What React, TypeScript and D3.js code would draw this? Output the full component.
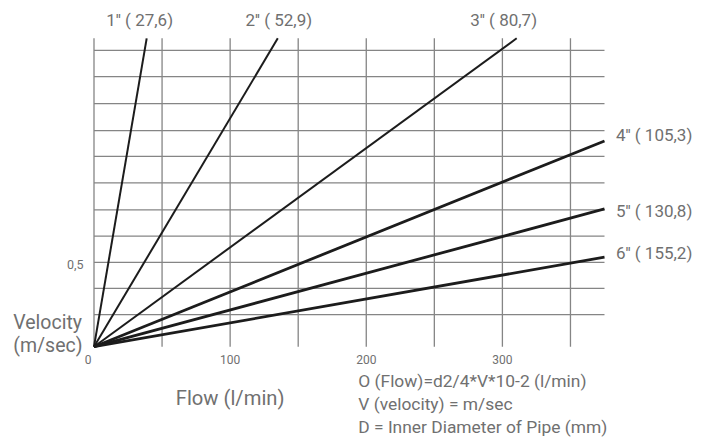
import { useEffect, useRef } from "react";
import * as d3 from "d3";

// Flow (l/min) on x, velocity (m/sec) on y
const FLOW_GRID = [0, 50, 100, 150, 200, 250, 300, 350];
const FLOW_TICKS = [0, 100, 200, 300];
const VELOCITY_GRID = [0.19, 0.345, 0.5, 0.655, 0.81, 0.97, 1.128, 1.28, 1.44, 1.6, 1.755];
const VELOCITY_TICKS = [0.5];

const PIPE_SIZES = ["1''", "2''", "3''", "4''", "5''", "6''"];
const PIPE_DIAMETERS = ["27,6", "52,9", "80,7", "105,3", "130,8", "155,2"];
const PIPE_END_FLOW = [38.7, 135, 310.5, 375, 375, 375];
const PIPE_END_VELOCITY = [1.827, 1.827, 1.827, 1.219, 0.816, 0.53];

const FORMULA = [
  "O (Flow)=d2/4*V*10-2 (l/min)",
  "V (velocity) = m/sec",
  "D = Inner Diameter of Pipe (mm)",
];

const W = 714, H = 439;
const GRID = "#858585";
const INK = "#1c1c1c";
const TEXT = "#707070";
const FONT = "Roboto, 'DejaVu Sans', sans-serif";

export default function App() {
  const ref = useRef<SVGSVGElement>(null);
  useEffect(() => {
    const el = ref.current;
    if (!el) return;
    const svg = d3.select(el);
    svg.selectAll("*").remove();

    const x = d3.scaleLinear().domain([0, 375]).range([94, 604.5]);
    const y = d3.scaleLinear().domain([0, 1.827]).range([346.7, 38.3]);

    // grid
    FLOW_GRID.forEach((f) => {
      svg.append("line").attr("x1", x(f)).attr("x2", x(f)).attr("y1", y.range()[1]).attr("y2", y(0))
        .attr("stroke", GRID).attr("stroke-width", 1.3);
    });
    VELOCITY_GRID.forEach((v) => {
      svg.append("line").attr("x1", x(0)).attr("x2", x.range()[1]).attr("y1", y(v)).attr("y2", y(v))
        .attr("stroke", GRID).attr("stroke-width", 1.3);
    });

    // tick labels
    FLOW_TICKS.forEach((f) => {
      svg.append("text").attr("x", x(f) - (f === 0 ? 6 : 0)).attr("y", 364).attr("text-anchor", "middle")
        .attr("fill", TEXT).attr("font-size", 12).attr("font-family", FONT).text(f);
    });
    VELOCITY_TICKS.forEach((v) => {
      svg.append("text").attr("x", 83.5).attr("y", y(v) + 7).attr("text-anchor", "end")
        .attr("fill", TEXT).attr("font-size", 12.5).attr("font-family", FONT).text(String(v).replace(".", ","));
    });

    // pipe lines
    const line = d3.line<[number, number]>().x((d) => x(d[0])).y((d) => y(d[1]));
    PIPE_SIZES.forEach((_s, i) => {
      const pts: [number, number][] = [[0, 0], [PIPE_END_FLOW[i], PIPE_END_VELOCITY[i]]];
      svg.append("path").attr("d", line(pts)).attr("fill", "none").attr("stroke", INK)
        .attr("stroke-width", i < 3 ? 2 : 2.8).attr("stroke-linecap", "butt");
    });

    // pipe labels: top ones sit above the end, side ones to the right
    const labelDx = [-7, 1, -13];
    const labelBase = [140.7, 217.3, 259.3];
    PIPE_SIZES.forEach((s, i) => {
      const t = svg.append("text").attr("fill", TEXT).attr("font-size", 17).attr("font-family", FONT)
        .text(`${s} ( ${PIPE_DIAMETERS[i]})`);
      if (i < 3) {
        t.attr("x", x(PIPE_END_FLOW[i]) + labelDx[i]).attr("y", 26).attr("text-anchor", "middle");
      } else {
        t.attr("x", 616).attr("y", labelBase[i - 3]).attr("text-anchor", "start");
      }
    });

    // axis titles
    svg.append("text").attr("x", 82).attr("y", 329).attr("text-anchor", "end").attr("fill", TEXT)
      .attr("font-size", 19.5).attr("font-family", FONT).text("Velocity");
    svg.append("text").attr("x", 82.5).attr("y", 352).attr("text-anchor", "end").attr("fill", TEXT)
      .attr("font-size", 19.5).attr("font-family", FONT).text("(m/sec)");
    svg.append("text").attr("x", x(100)).attr("y", 405).attr("text-anchor", "middle").attr("fill", TEXT)
      .attr("font-size", 20.2).attr("font-family", FONT).text("Flow (l/min)");

    FORMULA.forEach((s, i) => {
      svg.append("text").attr("x", 358.3).attr("y", 386.7 + i * 23.3).attr("fill", TEXT)
        .attr("font-size", 17.4).attr("font-family", FONT).text(s);
    });
  }, []);

  return (
    <svg ref={ref} width={W} height={H} viewBox={`0 0 ${W} ${H}`}
      style={{ position: "absolute", left: 0, top: 0, background: "#fff" }} />
  );
}
